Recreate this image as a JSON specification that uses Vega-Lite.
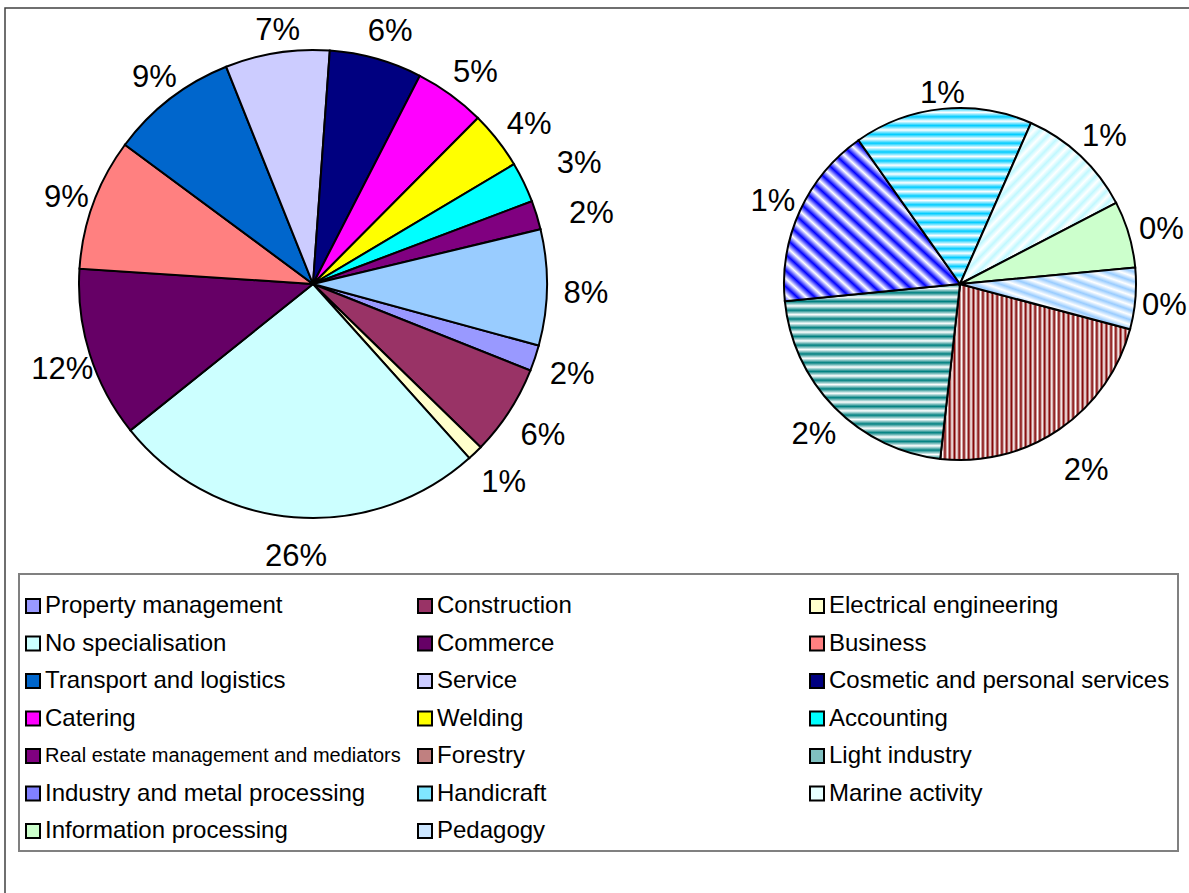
{
  "$schema": "https://vega.github.io/schema/vega-lite/v6.json",
  "width": 1187,
  "height": 888,
  "autosize": {"type": "none"},
  "padding": {"left": 5, "top": 8, "right": -3, "bottom": -3},
  "background": "white",
  "config": {
    "view": {"stroke": "#404040", "strokeWidth": 1.5},
    "font": "Liberation Sans"
  },
  "datasets": {
    "main": [
      {"category": "Property management", "value": 0.0179, "k": 1},
      {"category": "Construction", "value": 0.0626, "k": 2},
      {"category": "Electrical engineering", "value": 0.0107, "k": 3},
      {"category": "No specialisation", "value": 0.2589, "k": 4},
      {"category": "Commerce", "value": 0.118, "k": 5},
      {"category": "Business", "value": 0.091, "k": 6},
      {"category": "Transport and logistics", "value": 0.088, "k": 7},
      {"category": "Service", "value": 0.072, "k": 8},
      {"category": "Cosmetic and personal services", "value": 0.064, "k": 9},
      {"category": "Catering", "value": 0.049, "k": 10},
      {"category": "Welding", "value": 0.04, "k": 11},
      {"category": "Accounting", "value": 0.028, "k": 12},
      {"category": "Real estate management and mediators", "value": 0.02, "k": 13},
      {"category": "Other", "value": 0.0799, "k": 14}
    ],
    "secondary": [
      {"category": "Forestry", "value": 0.0181, "k": 1},
      {"category": "Light industry", "value": 0.0173, "k": 2},
      {"category": "Industry and metal processing", "value": 0.0134, "k": 3},
      {"category": "Handicraft", "value": 0.0131, "k": 4},
      {"category": "Marine activity", "value": 0.0086, "k": 5},
      {"category": "Information processing", "value": 0.0049, "k": 6},
      {"category": "Pedagogy", "value": 0.0045, "k": 7}
    ]
  },
  "layer": [
    {
      "data": {"name": "main"},
      "encoding": {
        "theta": {"field": "value", "type": "quantitative", "stack": true, "scale": {"range": [1.8369, 8.1201]}},
        "order": {"field": "k", "type": "quantitative"}
      },
      "layer": [
        {
          "mark": {"type": "arc", "radius": 234, "stroke": "black", "strokeWidth": 2},
          "encoding": {
            "x": {"datum": "main", "type": "nominal", "scale": {"type": "point", "domain": ["main", "secondary"], "range": [308, 955], "padding": 0}, "axis": null},
            "y": {"datum": "main", "type": "nominal", "scale": {"type": "point", "domain": ["main", "secondary"], "range": [276, 276], "padding": 0}, "axis": null},
            "color": {
              "field": "category",
              "type": "nominal",
              "condition": {"test": "datum.category === 'Other'", "value": "#99ccff"},
              "scale": {
                "domain": ["Property management", "Construction", "Electrical engineering", "No specialisation", "Commerce", "Business", "Transport and logistics", "Service", "Cosmetic and personal services", "Catering", "Welding", "Accounting", "Real estate management and mediators", "Forestry", "Light industry", "Industry and metal processing", "Handicraft", "Marine activity", "Information processing", "Pedagogy"],
                "range": ["#9999ff", "#993366", "#ffffcc", "#ccffff", "#660066", "#ff8080", "#0066cc", "#ccccff", "#000080", "#ff00ff", "#ffff00", "#00ffff", "#800080", "#c08080", "#80c0c0", "#8080ff", "#80e6ff", "#e6ffff", "#ccffcc", "#cce6ff"]
              },
              "legend": {
                "orient": "none",
                "legendX": 14,
                "legendY": 566,
                "columns": 3,
                "direction": "horizontal",
                "title": " ",
                "titleFontSize": 1,
                "titlePadding": 11,
                "padding": 8,
                "strokeColor": "#808080",
                "symbolType": "square",
                "symbolSize": 196,
                "symbolStrokeColor": "black",
                "symbolStrokeWidth": 2,
                "symbolOpacity": 1,
                "symbolOffset": -6,
                "labelFont": "Liberation Sans",
                "labelFontSize": 24,
                "labelColor": "black",
                "labelOffset": 0,
                "labelLimit": 400,
                "rowPadding": 13.5,
                "columnPadding": 13,
                "gridAlign": "all",
                "encode": {
                  "labels": {"update": {"fontSize": {"signal": "datum.label === 'Real estate management and mediators' ? 20 : 24"}}},
                  "legend": {"update": {"strokeWidth": {"value": 2}}}
                }
              }
            }
          }
        },
        {
          "mark": {
            "type": "text",
            "radius": {"expr": "datum.category === 'Accounting' ? 290 : (datum.category === 'Real estate management and mediators' ? 286 : (datum.category === 'Service' ? 262 : 268))"},
            "dx": 5,
            "dy": {"expr": "datum.category === 'Real estate management and mediators' ? 14 : 6"},
            "fontSize": 31,
            "font": "Liberation Sans",
            "fill": "black"
          },
          "encoding": {
            "x": {"datum": "main", "type": "nominal", "scale": {"type": "point", "domain": ["main", "secondary"], "range": [308, 955], "padding": 0}, "axis": null},
            "y": {"datum": "main", "type": "nominal", "scale": {"type": "point", "domain": ["main", "secondary"], "range": [276, 276], "padding": 0}, "axis": null},
            "text": {"field": "value", "type": "quantitative", "format": ".0%"}
          }
        }
      ]
    },
    {
      "data": {"name": "secondary"},
      "encoding": {
        "theta": {"field": "value", "type": "quantitative", "stack": true, "scale": {"range": [1.8309, 8.1141]}},
        "order": {"field": "k", "type": "quantitative"}
      },
      "layer": [
        {
          "mark": {"type": "arc", "radius": 176, "stroke": "black", "strokeWidth": 2},
          "encoding": {
            "x": {"datum": "secondary", "type": "nominal", "scale": {"type": "point", "domain": ["main", "secondary"], "range": [308, 955], "padding": 0}, "axis": null},
            "y": {"datum": "secondary", "type": "nominal", "scale": {"type": "point", "domain": ["main", "secondary"], "range": [276, 276], "padding": 0}, "axis": null},
            "color": {
              "field": "category",
              "type": "nominal",
              "scale": {
                "domain": ["Property management", "Construction", "Electrical engineering", "No specialisation", "Commerce", "Business", "Transport and logistics", "Service", "Cosmetic and personal services", "Catering", "Welding", "Accounting", "Real estate management and mediators", "Forestry", "Light industry", "Industry and metal processing", "Handicraft", "Marine activity", "Information processing", "Pedagogy"],
                "range": ["#9999ff", "#993366", "#ffffcc", "#ccffff", "#660066", "#ff8080", "#0066cc", "#ccccff", "#000080", "#ff00ff", "#ffff00", "#00ffff", "#800080", "#c08080", "#80c0c0", "#8080ff", "#80e6ff", "#e6ffff", "#ccffcc", "#cce6ff"]
              },
              "condition": [
                {"test": "datum.category === 'Forestry'", "value": {"gradient": "linear", "x1": 0, "y1": 0, "x2": 1, "y2": 0, "stops": [
                  {"offset": 0, "color": "#800000"}, {"offset": 0.0125, "color": "#ffffff"}, {"offset": 0.025, "color": "#800000"}, {"offset": 0.0375, "color": "#ffffff"},
                  {"offset": 0.05, "color": "#800000"}, {"offset": 0.0625, "color": "#ffffff"}, {"offset": 0.075, "color": "#800000"}, {"offset": 0.0875, "color": "#ffffff"},
                  {"offset": 0.1, "color": "#800000"}, {"offset": 0.1125, "color": "#ffffff"}, {"offset": 0.125, "color": "#800000"}, {"offset": 0.1375, "color": "#ffffff"},
                  {"offset": 0.15, "color": "#800000"}, {"offset": 0.1625, "color": "#ffffff"}, {"offset": 0.175, "color": "#800000"}, {"offset": 0.1875, "color": "#ffffff"},
                  {"offset": 0.2, "color": "#800000"}, {"offset": 0.2125, "color": "#ffffff"}, {"offset": 0.225, "color": "#800000"}, {"offset": 0.2375, "color": "#ffffff"},
                  {"offset": 0.25, "color": "#800000"}, {"offset": 0.2625, "color": "#ffffff"}, {"offset": 0.275, "color": "#800000"}, {"offset": 0.2875, "color": "#ffffff"},
                  {"offset": 0.3, "color": "#800000"}, {"offset": 0.3125, "color": "#ffffff"}, {"offset": 0.325, "color": "#800000"}, {"offset": 0.3375, "color": "#ffffff"},
                  {"offset": 0.35, "color": "#800000"}, {"offset": 0.3625, "color": "#ffffff"}, {"offset": 0.375, "color": "#800000"}, {"offset": 0.3875, "color": "#ffffff"},
                  {"offset": 0.4, "color": "#800000"}, {"offset": 0.4125, "color": "#ffffff"}, {"offset": 0.425, "color": "#800000"}, {"offset": 0.4375, "color": "#ffffff"},
                  {"offset": 0.45, "color": "#800000"}, {"offset": 0.4625, "color": "#ffffff"}, {"offset": 0.475, "color": "#800000"}, {"offset": 0.4875, "color": "#ffffff"},
                  {"offset": 0.5, "color": "#800000"}, {"offset": 0.5125, "color": "#ffffff"}, {"offset": 0.525, "color": "#800000"}, {"offset": 0.5375, "color": "#ffffff"},
                  {"offset": 0.55, "color": "#800000"}, {"offset": 0.5625, "color": "#ffffff"}, {"offset": 0.575, "color": "#800000"}, {"offset": 0.5875, "color": "#ffffff"},
                  {"offset": 0.6, "color": "#800000"}, {"offset": 0.6125, "color": "#ffffff"}, {"offset": 0.625, "color": "#800000"}, {"offset": 0.6375, "color": "#ffffff"},
                  {"offset": 0.65, "color": "#800000"}, {"offset": 0.6625, "color": "#ffffff"}, {"offset": 0.675, "color": "#800000"}, {"offset": 0.6875, "color": "#ffffff"},
                  {"offset": 0.7, "color": "#800000"}, {"offset": 0.7125, "color": "#ffffff"}, {"offset": 0.725, "color": "#800000"}, {"offset": 0.7375, "color": "#ffffff"},
                  {"offset": 0.75, "color": "#800000"}, {"offset": 0.7625, "color": "#ffffff"}, {"offset": 0.775, "color": "#800000"}, {"offset": 0.7875, "color": "#ffffff"},
                  {"offset": 0.8, "color": "#800000"}, {"offset": 0.8125, "color": "#ffffff"}, {"offset": 0.825, "color": "#800000"}, {"offset": 0.8375, "color": "#ffffff"},
                  {"offset": 0.85, "color": "#800000"}, {"offset": 0.8625, "color": "#ffffff"}, {"offset": 0.875, "color": "#800000"}, {"offset": 0.8875, "color": "#ffffff"},
                  {"offset": 0.9, "color": "#800000"}, {"offset": 0.9125, "color": "#ffffff"}, {"offset": 0.925, "color": "#800000"}, {"offset": 0.9375, "color": "#ffffff"},
                  {"offset": 0.95, "color": "#800000"}, {"offset": 0.9625, "color": "#ffffff"}, {"offset": 0.975, "color": "#800000"}, {"offset": 0.9875, "color": "#ffffff"},
                  {"offset": 1, "color": "#800000"}
                ]}},
                {"test": "datum.category === 'Light industry'", "value": {"gradient": "linear", "x1": 0, "y1": 0, "x2": 0, "y2": 1, "stops": [
                  {"offset": 0, "color": "#008080"}, {"offset": 0.025, "color": "#ffffff"}, {"offset": 0.05, "color": "#008080"}, {"offset": 0.075, "color": "#ffffff"},
                  {"offset": 0.1, "color": "#008080"}, {"offset": 0.125, "color": "#ffffff"}, {"offset": 0.15, "color": "#008080"}, {"offset": 0.175, "color": "#ffffff"},
                  {"offset": 0.2, "color": "#008080"}, {"offset": 0.225, "color": "#ffffff"}, {"offset": 0.25, "color": "#008080"}, {"offset": 0.275, "color": "#ffffff"},
                  {"offset": 0.3, "color": "#008080"}, {"offset": 0.325, "color": "#ffffff"}, {"offset": 0.35, "color": "#008080"}, {"offset": 0.375, "color": "#ffffff"},
                  {"offset": 0.4, "color": "#008080"}, {"offset": 0.425, "color": "#ffffff"}, {"offset": 0.45, "color": "#008080"}, {"offset": 0.475, "color": "#ffffff"},
                  {"offset": 0.5, "color": "#008080"}, {"offset": 0.525, "color": "#ffffff"}, {"offset": 0.55, "color": "#008080"}, {"offset": 0.575, "color": "#ffffff"},
                  {"offset": 0.6, "color": "#008080"}, {"offset": 0.625, "color": "#ffffff"}, {"offset": 0.65, "color": "#008080"}, {"offset": 0.675, "color": "#ffffff"},
                  {"offset": 0.7, "color": "#008080"}, {"offset": 0.725, "color": "#ffffff"}, {"offset": 0.75, "color": "#008080"}, {"offset": 0.775, "color": "#ffffff"},
                  {"offset": 0.8, "color": "#008080"}, {"offset": 0.825, "color": "#ffffff"}, {"offset": 0.85, "color": "#008080"}, {"offset": 0.875, "color": "#ffffff"},
                  {"offset": 0.9, "color": "#008080"}, {"offset": 0.925, "color": "#ffffff"}, {"offset": 0.95, "color": "#008080"}, {"offset": 0.975, "color": "#ffffff"},
                  {"offset": 1, "color": "#008080"}
                ]}},
                {"test": "datum.category === 'Industry and metal processing'", "value": {"gradient": "linear", "x1": 0, "y1": 1, "x2": 1, "y2": 0, "stops": [
                  {"offset": 0, "color": "#0000ff"}, {"offset": 0.025, "color": "#ffffff"}, {"offset": 0.05, "color": "#0000ff"}, {"offset": 0.075, "color": "#ffffff"},
                  {"offset": 0.1, "color": "#0000ff"}, {"offset": 0.125, "color": "#ffffff"}, {"offset": 0.15, "color": "#0000ff"}, {"offset": 0.175, "color": "#ffffff"},
                  {"offset": 0.2, "color": "#0000ff"}, {"offset": 0.225, "color": "#ffffff"}, {"offset": 0.25, "color": "#0000ff"}, {"offset": 0.275, "color": "#ffffff"},
                  {"offset": 0.3, "color": "#0000ff"}, {"offset": 0.325, "color": "#ffffff"}, {"offset": 0.35, "color": "#0000ff"}, {"offset": 0.375, "color": "#ffffff"},
                  {"offset": 0.4, "color": "#0000ff"}, {"offset": 0.425, "color": "#ffffff"}, {"offset": 0.45, "color": "#0000ff"}, {"offset": 0.475, "color": "#ffffff"},
                  {"offset": 0.5, "color": "#0000ff"}, {"offset": 0.525, "color": "#ffffff"}, {"offset": 0.55, "color": "#0000ff"}, {"offset": 0.575, "color": "#ffffff"},
                  {"offset": 0.6, "color": "#0000ff"}, {"offset": 0.625, "color": "#ffffff"}, {"offset": 0.65, "color": "#0000ff"}, {"offset": 0.675, "color": "#ffffff"},
                  {"offset": 0.7, "color": "#0000ff"}, {"offset": 0.725, "color": "#ffffff"}, {"offset": 0.75, "color": "#0000ff"}, {"offset": 0.775, "color": "#ffffff"},
                  {"offset": 0.8, "color": "#0000ff"}, {"offset": 0.825, "color": "#ffffff"}, {"offset": 0.85, "color": "#0000ff"}, {"offset": 0.875, "color": "#ffffff"},
                  {"offset": 0.9, "color": "#0000ff"}, {"offset": 0.925, "color": "#ffffff"}, {"offset": 0.95, "color": "#0000ff"}, {"offset": 0.975, "color": "#ffffff"},
                  {"offset": 1, "color": "#0000ff"}
                ]}},
                {"test": "datum.category === 'Handicraft'", "value": {"gradient": "linear", "x1": 0, "y1": 0, "x2": 0, "y2": 1, "stops": [
                  {"offset": 0, "color": "#00ccff"}, {"offset": 0.025, "color": "#ffffff"}, {"offset": 0.05, "color": "#00ccff"}, {"offset": 0.075, "color": "#ffffff"},
                  {"offset": 0.1, "color": "#00ccff"}, {"offset": 0.125, "color": "#ffffff"}, {"offset": 0.15, "color": "#00ccff"}, {"offset": 0.175, "color": "#ffffff"},
                  {"offset": 0.2, "color": "#00ccff"}, {"offset": 0.225, "color": "#ffffff"}, {"offset": 0.25, "color": "#00ccff"}, {"offset": 0.275, "color": "#ffffff"},
                  {"offset": 0.3, "color": "#00ccff"}, {"offset": 0.325, "color": "#ffffff"}, {"offset": 0.35, "color": "#00ccff"}, {"offset": 0.375, "color": "#ffffff"},
                  {"offset": 0.4, "color": "#00ccff"}, {"offset": 0.425, "color": "#ffffff"}, {"offset": 0.45, "color": "#00ccff"}, {"offset": 0.475, "color": "#ffffff"},
                  {"offset": 0.5, "color": "#00ccff"}, {"offset": 0.525, "color": "#ffffff"}, {"offset": 0.55, "color": "#00ccff"}, {"offset": 0.575, "color": "#ffffff"},
                  {"offset": 0.6, "color": "#00ccff"}, {"offset": 0.625, "color": "#ffffff"}, {"offset": 0.65, "color": "#00ccff"}, {"offset": 0.675, "color": "#ffffff"},
                  {"offset": 0.7, "color": "#00ccff"}, {"offset": 0.725, "color": "#ffffff"}, {"offset": 0.75, "color": "#00ccff"}, {"offset": 0.775, "color": "#ffffff"},
                  {"offset": 0.8, "color": "#00ccff"}, {"offset": 0.825, "color": "#ffffff"}, {"offset": 0.85, "color": "#00ccff"}, {"offset": 0.875, "color": "#ffffff"},
                  {"offset": 0.9, "color": "#00ccff"}, {"offset": 0.925, "color": "#ffffff"}, {"offset": 0.95, "color": "#00ccff"}, {"offset": 0.975, "color": "#ffffff"},
                  {"offset": 1, "color": "#00ccff"}
                ]}},
                {"test": "datum.category === 'Marine activity'", "value": {"gradient": "linear", "x1": 0, "y1": 0, "x2": 1, "y2": 1, "stops": [
                  {"offset": 0, "color": "#c0f8ff"}, {"offset": 0.02, "color": "#ffffff"}, {"offset": 0.04, "color": "#c0f8ff"}, {"offset": 0.06, "color": "#ffffff"},
                  {"offset": 0.08, "color": "#c0f8ff"}, {"offset": 0.1, "color": "#ffffff"}, {"offset": 0.12, "color": "#c0f8ff"}, {"offset": 0.14, "color": "#ffffff"},
                  {"offset": 0.16, "color": "#c0f8ff"}, {"offset": 0.18, "color": "#ffffff"}, {"offset": 0.2, "color": "#c0f8ff"}, {"offset": 0.22, "color": "#ffffff"},
                  {"offset": 0.24, "color": "#c0f8ff"}, {"offset": 0.26, "color": "#ffffff"}, {"offset": 0.28, "color": "#c0f8ff"}, {"offset": 0.3, "color": "#ffffff"},
                  {"offset": 0.32, "color": "#c0f8ff"}, {"offset": 0.34, "color": "#ffffff"}, {"offset": 0.36, "color": "#c0f8ff"}, {"offset": 0.38, "color": "#ffffff"},
                  {"offset": 0.4, "color": "#c0f8ff"}, {"offset": 0.42, "color": "#ffffff"}, {"offset": 0.44, "color": "#c0f8ff"}, {"offset": 0.46, "color": "#ffffff"},
                  {"offset": 0.48, "color": "#c0f8ff"}, {"offset": 0.5, "color": "#ffffff"}, {"offset": 0.52, "color": "#c0f8ff"}, {"offset": 0.54, "color": "#ffffff"},
                  {"offset": 0.56, "color": "#c0f8ff"}, {"offset": 0.58, "color": "#ffffff"}, {"offset": 0.6, "color": "#c0f8ff"}, {"offset": 0.62, "color": "#ffffff"},
                  {"offset": 0.64, "color": "#c0f8ff"}, {"offset": 0.66, "color": "#ffffff"}, {"offset": 0.68, "color": "#c0f8ff"}, {"offset": 0.7, "color": "#ffffff"},
                  {"offset": 0.72, "color": "#c0f8ff"}, {"offset": 0.74, "color": "#ffffff"}, {"offset": 0.76, "color": "#c0f8ff"}, {"offset": 0.78, "color": "#ffffff"},
                  {"offset": 0.8, "color": "#c0f8ff"}, {"offset": 0.82, "color": "#ffffff"}, {"offset": 0.84, "color": "#c0f8ff"}, {"offset": 0.86, "color": "#ffffff"},
                  {"offset": 0.88, "color": "#c0f8ff"}, {"offset": 0.9, "color": "#ffffff"}, {"offset": 0.92, "color": "#c0f8ff"}, {"offset": 0.94, "color": "#ffffff"},
                  {"offset": 0.96, "color": "#c0f8ff"}, {"offset": 0.98, "color": "#ffffff"}, {"offset": 1, "color": "#c0f8ff"}
                ]}},
                {"test": "datum.category === 'Pedagogy'", "value": {"gradient": "linear", "x1": 0, "y1": 1, "x2": 1, "y2": 0, "stops": [
                  {"offset": 0, "color": "#99ccff"}, {"offset": 0.04, "color": "#ffffff"}, {"offset": 0.08, "color": "#99ccff"}, {"offset": 0.12, "color": "#ffffff"},
                  {"offset": 0.16, "color": "#99ccff"}, {"offset": 0.2, "color": "#ffffff"}, {"offset": 0.24, "color": "#99ccff"}, {"offset": 0.28, "color": "#ffffff"},
                  {"offset": 0.32, "color": "#99ccff"}, {"offset": 0.36, "color": "#ffffff"}, {"offset": 0.4, "color": "#99ccff"}, {"offset": 0.44, "color": "#ffffff"},
                  {"offset": 0.48, "color": "#99ccff"}, {"offset": 0.52, "color": "#ffffff"}, {"offset": 0.56, "color": "#99ccff"}, {"offset": 0.6, "color": "#ffffff"},
                  {"offset": 0.64, "color": "#99ccff"}, {"offset": 0.68, "color": "#ffffff"}, {"offset": 0.72, "color": "#99ccff"}, {"offset": 0.76, "color": "#ffffff"},
                  {"offset": 0.8, "color": "#99ccff"}, {"offset": 0.84, "color": "#ffffff"}, {"offset": 0.88, "color": "#99ccff"}, {"offset": 0.92, "color": "#ffffff"},
                  {"offset": 0.96, "color": "#99ccff"}, {"offset": 1, "color": "#ffffff"}
                ]}}
              ]
            }
          }
        },
        {
          "mark": {
            "type": "text",
            "radius": {"expr": "datum.category === 'Handicraft' ? 196 : (datum.category === 'Forestry' ? 220 : (datum.category === 'Pedagogy' ? 203 : 208))"},
            "dx": 2,
            "dy": 5,
            "fontSize": 31,
            "font": "Liberation Sans",
            "fill": "black"
          },
          "encoding": {
            "x": {"datum": "secondary", "type": "nominal", "scale": {"type": "point", "domain": ["main", "secondary"], "range": [308, 955], "padding": 0}, "axis": null},
            "y": {"datum": "secondary", "type": "nominal", "scale": {"type": "point", "domain": ["main", "secondary"], "range": [276, 276], "padding": 0}, "axis": null},
            "text": {"field": "value", "type": "quantitative", "format": ".0%"}
          }
        }
      ]
    }
  ],
  "resolve": {"scale": {"theta": "independent"}}
}
